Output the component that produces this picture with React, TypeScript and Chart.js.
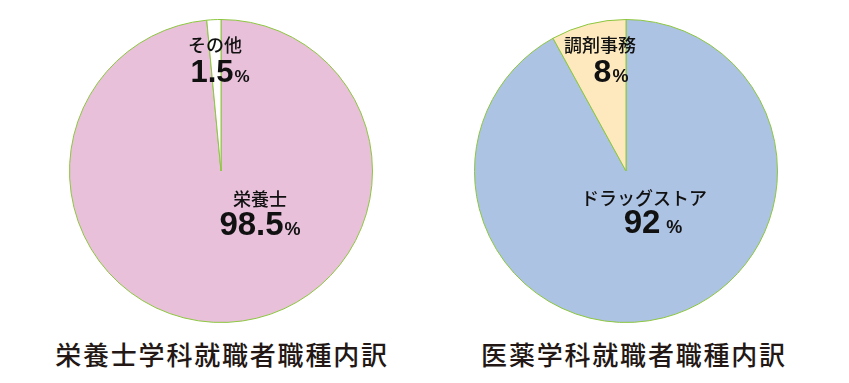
import React, { useEffect, useRef } from "react";
import { Chart, registerables } from "chart.js";

Chart.register(...registerables);

const leftLabels = ["栄養士", "その他"];
const leftValues = [98.5, 1.5];
const leftTitle = "栄養士学科就職者職種内訳";

const rightLabels = ["ドラッグストア", "調剤事務"];
const rightValues = [92, 8];
const rightTitle = "医薬学科就職者職種内訳";

const FONT = '"Noto Sans CJK JP", "Noto Sans", sans-serif';
const NUMFONT = '"Liberation Sans", Arial, sans-serif';

type LabelPos = { name: [number, number]; value: [number, number]; nameSize: number; valueSize: number; gap: number };

const labelPlugin = {
  id: "sliceLabels",
  afterDatasetsDraw(chart: any, _args: any, opts: any) {
    const ctx = chart.ctx;
    const meta = chart.getDatasetMeta(0);
    const arc = meta.data[0];
    const cx = arc.x;
    const cy = arc.y;
    const labels = chart.data.labels as string[];
    const values = chart.data.datasets[0].data as number[];
    const positions: LabelPos[] = opts.positions || [];
    ctx.save();
    ctx.fillStyle = "#111";
    ctx.textBaseline = "alphabetic";
    labels.forEach((lab, i) => {
      const p = positions[i];
      if (!p) return;
      ctx.font = `500 ${p.nameSize}px ${FONT}`;
      ctx.textAlign = "center";
      ctx.fillText(lab, cx + p.name[0], cy + p.name[1]);
      const num = String(values[i]);
      ctx.font = `bold ${p.valueSize}px ${NUMFONT}`;
      const w1 = ctx.measureText(num).width;
      const pctSize = Math.round(p.valueSize * 0.56);
      ctx.font = `bold ${pctSize}px ${NUMFONT}`;
      const w2 = ctx.measureText("%").width;
      const total = w1 + p.gap + w2;
      const x0 = cx + p.value[0] - total / 2;
      ctx.textAlign = "left";
      ctx.font = `bold ${p.valueSize}px ${NUMFONT}`;
      ctx.fillText(num, x0, cy + p.value[1]);
      ctx.font = `bold ${pctSize}px ${NUMFONT}`;
      ctx.fillText("%", x0 + w1 + p.gap, cy + p.value[1]);
    });
    ctx.restore();
  },
};

function Pie(props: { labels: string[]; values: number[]; colors: string[]; positions: LabelPos[] }) {
  const ref = useRef<HTMLCanvasElement | null>(null);
  useEffect(() => {
    if (!ref.current) return;
    const chart = new Chart(ref.current, {
      type: "pie",
      data: {
        labels: props.labels,
        datasets: [
          {
            data: props.values,
            backgroundColor: props.colors,
            borderColor: "#8cc63f",
            borderWidth: 1,
          },
        ],
      },
      options: {
        animation: false,
        responsive: false,
        maintainAspectRatio: false,
        layout: { padding: 1 },
        plugins: {
          legend: { display: false },
          tooltip: { enabled: false },
          sliceLabels: { positions: props.positions },
        } as any,
      },
      plugins: [labelPlugin],
    });
    return () => chart.destroy();
  }, []);
  return <canvas ref={ref} width={306} height={306} />;
}

const titleStyle: React.CSSProperties = {
  position: "absolute",
  top: 336,
  textAlign: "center",
  fontFamily: FONT,
  fontWeight: 500,
  fontSize: 26,
  color: "#231815",
  lineHeight: "36px",
  whiteSpace: "nowrap",
};

export default function App() {
  return (
    <div style={{ position: "absolute", left: 0, top: 0, width: 849, height: 383, background: "#fff", overflow: "hidden" }}>
      <div style={{ position: "absolute", left: 68, top: 18 }}>
        <Pie
          labels={leftLabels}
          values={leftValues}
          colors={["#e8c0da", "#ffffff"]}
          positions={[
            { name: [39, 35], value: [39, 64], nameSize: 18, valueSize: 33, gap: 1 },
            { name: [-6, -119], value: [-1, -89], nameSize: 18, valueSize: 31, gap: 1 },
          ]}
        />
      </div>
      <div style={{ position: "absolute", left: 473, top: 18 }}>
        <Pie
          labels={rightLabels}
          values={rightValues}
          colors={["#adc3e3", "#fde9bd"]}
          positions={[
            { name: [18, 34], value: [27, 62], nameSize: 18, valueSize: 33, gap: 6 },
            { name: [-26, -119], value: [-15, -89], nameSize: 18, valueSize: 32, gap: 1 },
          ]}
        />
      </div>
      <div style={{ ...titleStyle, left: 0, width: 444, letterSpacing: 1.8 }}>{leftTitle}</div>
      <div style={{ ...titleStyle, left: 420, width: 428, letterSpacing: 1.8 }}>{rightTitle}</div>
    </div>
  );
}
